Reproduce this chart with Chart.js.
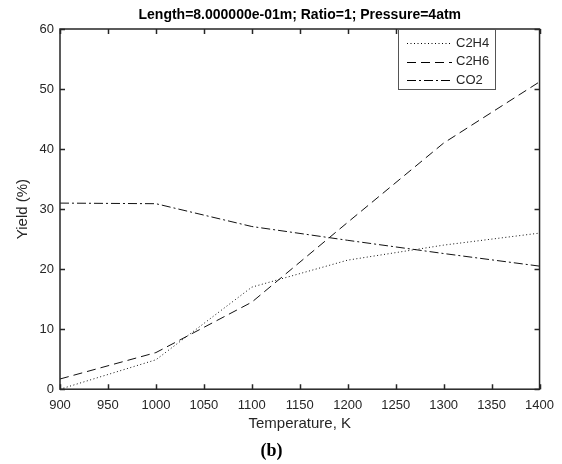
<!DOCTYPE html>
<html>
<head>
<meta charset="utf-8">
<script src="https://cdn.jsdelivr.net/npm/chart.js@4/dist/chart.umd.min.js"></script>
<style>
html,body{margin:0;padding:0;background:#fff;}
#wrap{width:562px;height:464px;}
</style>
</head>
<body>
<div id="wrap"><canvas id="c" width="562" height="464"></canvas></div>
<script>
const temperatures = [900, 1000, 1100, 1200, 1300, 1400];
const c2h4 = [0, 4.9, 17, 21.5, 24, 26];
const c2h6 = [1.7, 6.1, 14.5, 27.8, 41, 51.2];
const co2 = [31, 30.9, 27.1, 24.8, 22.6, 20.5];
const seriesNames = ['C2H4', 'C2H6', 'CO2'];
const xTickStep = 50;
const yTickStep = 10;

const axisColor = '#262626';
const FONT = "'Liberation Sans', Arial, Helvetica, sans-serif";

function pts(arr){ return temperatures.map((t,i)=>({x:t, y:arr[i]})); }

const framePlugin = {
  id: 'frame',
  afterDatasetsDraw(chart){
    const {ctx, chartArea:a, scales:{x, y}} = chart;
    ctx.save();
    ctx.strokeStyle = axisColor;
    ctx.lineWidth = 1.5;
    ctx.setLineDash([]);
    ctx.strokeRect(a.left, a.top, a.right - a.left, a.bottom - a.top);
    const L = 5;
    ctx.beginPath();
    x.ticks.forEach(t => {
      const px = Math.round(x.getPixelForValue(t.value)) + 0.5;
      ctx.moveTo(px, a.bottom); ctx.lineTo(px, a.bottom - L);
      ctx.moveTo(px, a.top); ctx.lineTo(px, a.top + L);
    });
    y.ticks.forEach(t => {
      const py = Math.round(y.getPixelForValue(t.value)) + 0.5;
      ctx.moveTo(a.left, py); ctx.lineTo(a.left + L, py);
      ctx.moveTo(a.right, py); ctx.lineTo(a.right - L, py);
    });
    ctx.stroke();

    // legend
    const bx = 398, by = a.top, bw = 97, bh = 60;
    ctx.fillStyle = '#fff';
    ctx.fillRect(bx, by, bw, bh);
    ctx.lineWidth = 1;
    ctx.strokeStyle = '#555';
    ctx.strokeRect(bx + 0.5, by + 0.5, bw, bh);
    ctx.font = '13px ' + FONT;
    ctx.textBaseline = 'middle';
    ctx.textAlign = 'left';
    chart.data.datasets.forEach((ds, i) => {
      const yy = by + 14 + i * 18.5;
      ctx.beginPath();
      ctx.strokeStyle = '#000';
      ctx.lineWidth = 1;
      ctx.setLineDash(ds.borderDash || []);
      ctx.moveTo(407, Math.round(yy) + 0.5);
      ctx.lineTo(452, Math.round(yy) + 0.5);
      ctx.stroke();
      ctx.setLineDash([]);
      ctx.fillStyle = axisColor;
      ctx.fillText(ds.label, 456, yy);
    });
    ctx.restore();
  }
};

new Chart(document.getElementById('c'), {
  type: 'line',
  data: {
    datasets: [
      {label: seriesNames[0], data: pts(c2h4), borderColor: '#111', borderWidth: 1, borderDash: [1, 2.5], pointRadius: 0, tension: 0, fill: false},
      {label: seriesNames[1], data: pts(c2h6), borderColor: '#111', borderWidth: 1, borderDash: [9, 5], pointRadius: 0, tension: 0, fill: false},
      {label: seriesNames[2], data: pts(co2), borderColor: '#111', borderWidth: 1, borderDash: [9, 3, 2, 3], pointRadius: 0, tension: 0, fill: false}
    ]
  },
  options: {
    responsive: false,
    animation: false,
    devicePixelRatio: 1,
    layout: {padding: {left: 0, right: 19, top: 0, bottom: 0}},
    plugins: {
      legend: {display: false},
      tooltip: {enabled: false},
      title: {
        display: true,
        text: 'Length=8.000000e-01m; Ratio=1; Pressure=4atm',
        fullSize: false,
        color: '#000',
        font: {family: FONT, size: 14, weight: 'bold'},
        padding: {top: 6.6, bottom: 5.6}
      },
      subtitle: {
        display: true,
        position: 'bottom',
        text: '(b)',
        color: '#000',
        font: {family: "'Liberation Serif', 'Times New Roman', serif", size: 18, weight: 'bold'},
        padding: {top: 0, bottom: 2.2}
      }
    },
    scales: {
      x: {
        type: 'linear',
        min: 900, max: 1400,
        grid: {display: false, drawTicks: false},
        border: {display: false},
        ticks: {stepSize: xTickStep, color: axisColor, font: {family: FONT, size: 13}, padding: 8, maxRotation: 0, autoSkip: false,
                callback: v => String(v)},
        title: {display: true, text: 'Temperature, K', color: axisColor, font: {family: FONT, size: 15}, padding: {top: 0, bottom: 7}},
        afterFit(s){ s.height = 51; }
      },
      y: {
        type: 'linear',
        min: 0, max: 60,
        grid: {display: false, drawTicks: false},
        border: {display: false},
        ticks: {stepSize: yTickStep, color: axisColor, font: {family: FONT, size: 13}, padding: 6, callback: v => String(v)},
        title: {display: true, text: 'Yield (%)', color: axisColor, font: {family: FONT, size: 15}, padding: {top: 14, bottom: 0}},
        afterFit(s){ s.width = 60; }
      }
    }
  },
  plugins: [framePlugin]
});
</script>
</body>
</html>
